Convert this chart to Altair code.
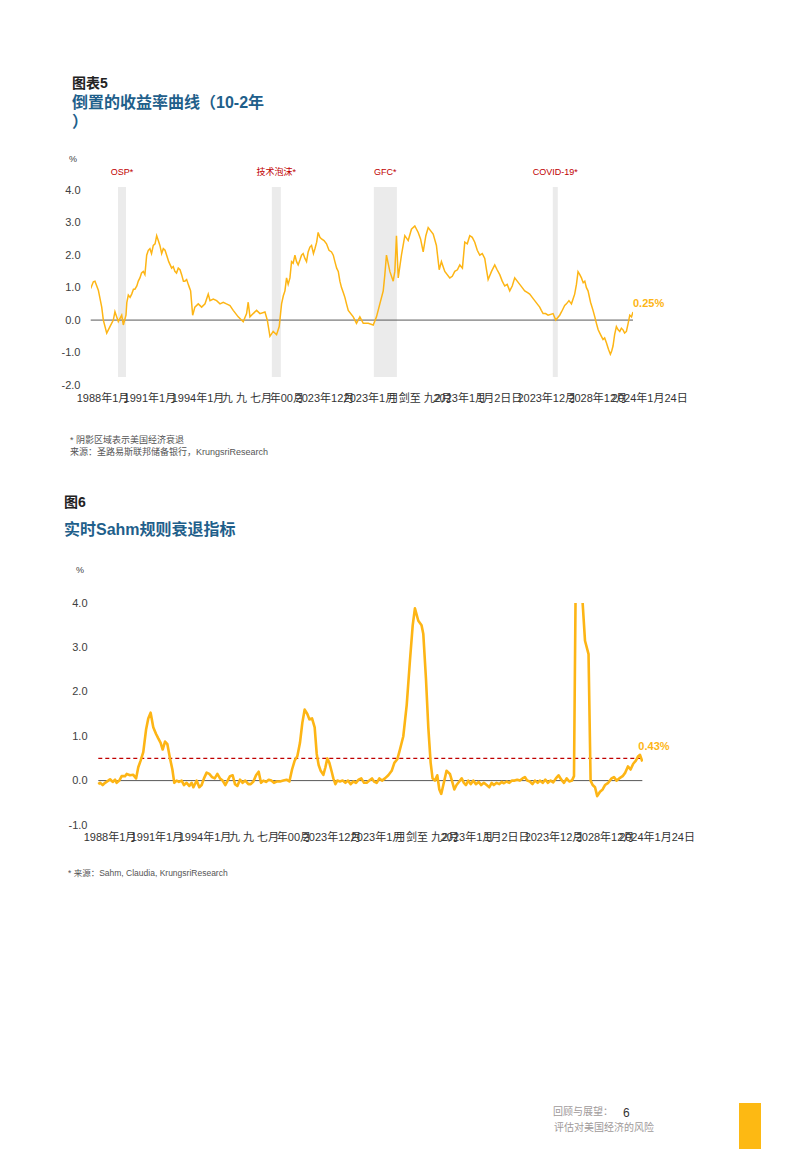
import altair as alt
import pandas as pd

FONT = "Liberation Sans, Noto Sans CJK SC, sans-serif"
LINE = "#FDB515"
BLUE = "#1f5f8b"
RED = "#c00000"

# ---------------- Chart 1 data: 10y-2y spread (%) ----------------
yc_years = [1988.64, 1988.82, 1988.93, 1989.16, 1989.39, 1989.50, 1989.73, 1989.95, 1990.18, 1990.29,
            1990.52, 1990.75, 1990.86, 1991.04, 1991.20, 1991.43, 1991.65, 1991.99, 1992.22, 1992.45,
            1992.67, 1992.90, 1993.13, 1993.35, 1993.58, 1993.81, 1994.15, 1994.37, 1994.60, 1994.83,
            1995.05, 1995.28, 1995.44, 1995.58, 1995.73, 1995.96, 1996.19, 1996.42, 1996.64, 1996.76,
            1996.98, 1997.21, 1997.44, 1997.66, 1997.88, 1998.12, 1998.34, 1998.68, 1999.02, 1999.25,
            1999.36, 1999.48, 1999.70, 1999.93, 2000.16, 2000.50, 2000.66, 2000.84, 2001.06, 2001.29,
            2001.47, 2001.63, 2001.86, 2001.97, 2002.20, 2002.31, 2002.54, 2002.76, 2002.99, 2003.22,
            2003.44, 2003.67, 2003.90, 2004.12, 2004.35, 2004.69, 2005.03, 2005.26, 2005.49, 2005.71,
            2005.94, 2006.17, 2006.51, 2006.73, 2006.96, 2007.19, 2007.53, 2007.87, 2008.09, 2008.32,
            2008.55, 2008.66, 2008.77, 2009.00, 2009.23, 2009.34, 2009.45, 2009.57, 2009.79, 2010.02,
            2010.25, 2010.47, 2010.70, 2010.93, 2011.09, 2011.27, 2011.45, 2011.61, 2011.95, 2012.17,
            2012.36, 2012.51, 2012.74, 2013.08, 2013.42, 2013.76, 2013.94, 2014.10, 2014.44, 2014.78,
            2015.12, 2015.46, 2015.69, 2015.92, 2016.14, 2016.48, 2016.82, 2017.16, 2017.50, 2017.84,
            2018.18, 2018.52, 2018.86, 2019.20, 2019.43, 2019.77, 2020.11, 2020.29, 2020.56, 2020.79,
            2021.02, 2021.36, 2021.58, 2021.81, 2022.04, 2022.27, 2022.49, 2022.83, 2023.06, 2023.29,
            2023.51, 2023.74, 2024.01, 2024.19, 2024.42, 2024.65, 2024.87, 2025.10, 2025.33, 2025.55]
yc_values = [0.97, 1.18, 1.20, 0.92, 0.40, 0.00, -0.40, -0.20, 0.00, 0.26,
             -0.05, 0.15, -0.15, 0.15, 0.77, 0.80, 0.95, 1.30, 1.50, 2.00,
             2.20, 2.30, 2.60, 2.30, 2.20, 2.00, 1.60, 1.50, 1.60, 1.40,
             1.20, 1.10, 0.90, 0.15, 0.40, 0.50, 0.40, 0.50, 0.80, 0.60,
             0.65, 0.60, 0.50, 0.55, 0.50, 0.45, 0.30, 0.10, -0.05, 0.20,
             0.55, 0.10, 0.20, 0.30, 0.20, 0.25, 0.00, -0.50, -0.35, -0.45,
             -0.20, 0.50, 0.90, 1.30, 1.30, 1.80, 2.00, 1.70, 2.00, 1.90,
             2.10, 2.30, 2.20, 2.70, 2.50, 2.35, 2.10, 1.80, 1.50, 1.00,
             0.70, 0.30, 0.10, -0.10, 0.10, -0.10, -0.10, -0.15, 0.10, 0.50,
             0.90, 1.40, 2.00, 1.50, 1.20, 1.50, 2.60, 1.30, 2.00, 2.60,
             2.45, 2.80, 2.90, 2.70, 2.50, 2.10, 2.60, 2.85, 2.65, 2.30,
             1.55, 1.80, 1.50, 1.30, 1.50, 1.70, 1.60, 2.40, 2.60, 2.40,
             2.00, 1.90, 1.25, 1.50, 1.70, 1.40, 1.05, 0.90, 1.30, 1.10,
             0.90, 0.80, 0.60, 0.40, 0.20, 0.15, 0.20, 0.00, 0.15, 0.35,
             0.50, 0.50, 0.80, 1.49, 1.30, 1.20, 0.90, 0.30, -0.10, -0.40,
             -0.60, -0.70, -1.05, -0.80, -0.20, -0.35, -0.30, -0.35, 0.15, 0.25]
# further readings between the points above (the daily series is jagged)
yc_years_more = [1991.10, 1991.32, 1991.55, 1991.78, 1991.88, 1992.10, 1992.33, 1992.56, 1992.78, 1993.02,
                 1993.24, 1993.47, 1993.70, 1993.95, 1994.26, 1994.48, 1994.72, 1994.95, 1995.17, 1995.36,
                 2001.75, 2002.08, 2002.42, 2002.65, 2002.88, 2003.10, 2003.33, 2003.56, 2003.80, 2004.02,
                 2004.24, 2004.52, 2004.86, 2005.15, 2005.38, 2005.60, 2005.83, 2006.05,
                 2013.25, 2013.60, 2014.27, 2014.61, 2014.95, 2015.29, 2015.58, 2016.03, 2016.30, 2016.65,
                 2016.99, 2017.33, 2017.67, 2018.01, 2018.35, 2018.69, 2019.03, 2019.31, 2019.60,
                 2020.68, 2020.90, 2021.19, 2021.47, 2021.70, 2021.93, 2022.16, 2022.38, 2022.66, 2022.95,
                 2023.18, 2023.40, 2023.62, 2023.88, 2024.10, 2024.30, 2024.54, 2024.76, 2024.98, 2025.22,
                 2025.45]
yc_values_more = [0.55, 0.70, 0.95, 1.05, 1.20, 1.45, 1.40, 2.15, 2.05, 2.35,
                  2.45, 2.05, 2.15, 1.80, 1.65, 1.45, 1.55, 1.20, 1.25, 1.00,
                  0.75, 1.10, 1.75, 1.80, 1.85, 2.05, 1.80, 2.25, 2.05, 2.40,
                  2.55, 2.45, 2.15, 2.00, 1.60, 1.20, 0.85, 0.50,
                  1.35, 1.55, 2.35, 2.55, 2.15, 2.05, 1.55, 1.60, 1.55, 1.20,
                  1.10, 1.05, 1.20, 1.00, 0.85, 0.70, 0.50, 0.30, 0.20,
                  0.25, 0.45, 0.60, 0.65, 1.10, 1.40, 1.15, 1.00, 0.55, 0.10,
                  -0.30, -0.50, -0.55, -0.90, -0.95, -0.45, -0.30, -0.25, -0.40, -0.10,
                  0.10]

rec_names = ["OSP*", "技术泡沫*", "GFC*", "COVID-19*"]
rec_start = [1990.50, 2000.97, 2007.91, 2020.09]
rec_end = [1991.04, 2001.58, 2009.48, 2020.43]

# ---------------- Chart 2 data: real-time Sahm rule (%) ----------------
sahm_years = [1988.68, 1988.80, 1988.98, 1989.14, 1989.36, 1989.48, 1989.66, 1989.82, 1989.93, 1990.11,
              1990.27, 1990.50, 1990.61, 1990.84, 1991.06, 1991.25, 1991.40, 1991.56, 1991.74, 1991.93,
              1992.08, 1992.24, 1992.42, 1992.61, 1992.76, 1992.92, 1993.06, 1993.22, 1993.38, 1993.56,
              1993.72, 1993.85, 1994.01, 1994.17, 1994.35, 1994.51, 1994.69, 1994.87, 1995.03, 1995.15,
              1995.37, 1995.55, 1995.71, 1995.87, 1996.05, 1996.23, 1996.42, 1996.60, 1996.78, 1996.96,
              1997.14, 1997.32, 1997.48, 1997.64, 1997.82, 1997.98, 1998.14, 1998.32, 1998.50, 1998.68,
              1998.89, 1999.05, 1999.23, 1999.41, 1999.59, 1999.75, 1999.91, 2000.09, 2000.27, 2000.45,
              2000.63, 2000.81, 2001.04, 2001.27, 2001.49, 2001.68, 2001.86, 2002.04, 2002.22, 2002.40,
              2002.56, 2002.72, 2002.90, 2003.04, 2003.22, 2003.40, 2003.54, 2003.67, 2003.81, 2003.99,
              2004.13, 2004.26, 2004.40, 2004.56, 2004.67, 2004.81, 2004.94, 2005.12, 2005.30, 2005.49,
              2005.67, 2005.85, 2006.03, 2006.21, 2006.39, 2006.57, 2006.76, 2006.94, 2007.12, 2007.30,
              2007.44, 2007.62, 2007.80, 2007.98, 2008.18, 2008.41, 2008.64, 2008.82, 2009.02, 2009.20,
              2009.43, 2009.66, 2009.88, 2010.07, 2010.22, 2010.45, 2010.67, 2010.79, 2010.97, 2011.13,
              2011.29, 2011.42, 2011.58, 2011.74, 2011.88, 2012.01, 2012.15, 2012.37, 2012.60, 2012.78,
              2012.90, 2013.05, 2013.24, 2013.40, 2013.55, 2013.69, 2013.85, 2014.01, 2014.19, 2014.37,
              2014.55, 2014.73, 2014.91, 2015.10, 2015.28, 2015.44, 2015.59, 2015.78, 2015.96, 2016.12,
              2016.27, 2016.46, 2016.64, 2016.82, 2017.00, 2017.18, 2017.36, 2017.54, 2017.70, 2017.86,
              2018.04, 2018.22, 2018.38, 2018.57, 2018.72, 2018.91, 2019.09, 2019.27, 2019.45, 2019.63,
              2019.81, 2019.99, 2020.18, 2020.36, 2020.54, 2020.72, 2020.90, 2021.04, 2021.17, 2021.33,
              2021.49, 2021.61, 2021.79, 2022.03, 2022.17, 2022.31, 2022.47, 2022.62, 2022.81, 2022.99,
              2023.15, 2023.37, 2023.60, 2023.76, 2023.94, 2024.12, 2024.35, 2024.53, 2024.71, 2024.89,
              2025.07, 2025.25, 2025.41, 2025.53, 2025.69]
sahm_values = [-0.08, -0.05, -0.10, -0.05, 0.00, 0.03, -0.03, 0.02, -0.05, 0.00,
               0.10, 0.10, 0.15, 0.12, 0.13, 0.05, 0.30, 0.45, 0.64, 1.15,
               1.40, 1.53, 1.20, 1.05, 0.95, 0.85, 0.70, 0.88, 0.82, 0.50,
               0.25, -0.05, 0.00, -0.03, 0.00, -0.10, -0.05, -0.12, -0.05, -0.15,
               0.00, -0.15, -0.10, 0.05, 0.18, 0.15, 0.08, 0.05, 0.15, 0.05,
               0.00, -0.10, 0.00, 0.10, 0.12, -0.08, -0.12, 0.02, -0.05, 0.00,
               -0.08, -0.08, -0.02, 0.12, 0.20, -0.05, 0.00, -0.03, 0.02, 0.00,
               -0.05, -0.02, -0.02, 0.00, 0.02, -0.02, 0.25, 0.45, 0.55, 0.85,
               1.30, 1.60, 1.50, 1.38, 1.40, 1.20, 0.60, 0.35, 0.22, 0.13,
               0.30, 0.50, 0.40, 0.20, 0.05, -0.08, 0.00, -0.02, 0.00, -0.05,
               0.00, -0.08, -0.02, -0.05, 0.02, 0.05, -0.05, -0.05, 0.00, 0.05,
               -0.02, -0.05, 0.05, 0.00, 0.05, 0.12, 0.22, 0.40, 0.48, 0.70,
               1.00, 1.70, 2.70, 3.50, 3.88, 3.60, 3.50, 3.30, 2.30, 1.20,
               0.40, 0.05, 0.00, 0.12, -0.20, -0.30, -0.10, 0.22, 0.15, -0.05,
               -0.20, -0.10, -0.02, 0.05, -0.05, -0.10, 0.00, -0.08, 0.00, -0.08,
               -0.03, -0.10, -0.05, -0.10, -0.15, -0.05, -0.10, -0.05, -0.08, -0.03,
               -0.06, -0.02, -0.05, 0.00, 0.00, 0.02, 0.00, 0.05, 0.08, 0.00,
               -0.02, -0.08, 0.00, -0.05, 0.00, -0.05, 0.02, -0.05, 0.00, -0.04,
               0.05, 0.12, 0.02, -0.05, 0.05, -0.02, 0.00, 0.10, 5.00, 9.50,
               8.00, 4.10, 3.15, 2.85, 0.00, -0.10, -0.15, -0.35, -0.25, -0.20,
               -0.10, -0.05, 0.05, 0.08, 0.00, 0.05, 0.10, 0.18, 0.32, 0.25,
               0.38, 0.45, 0.55, 0.58, 0.43]
sahm_threshold = 0.5

# ---------------- x tick labels (as printed) ----------------
x_labels = ["1988年1月", "1991年1月", "1994年1月", "九 九 七月", "年00月", "2023年12月", "2023年1月",
            "月剑至 九2月", "2023年1月", "1月2日日", "2023年12月", "2028年12月", "2024年1月24日"]
x_label_pos = [1989.48, 1992.67, 1995.94, 1999.27, 2001.99, 2004.58, 2007.64,
               2011.04, 2013.76, 2016.48, 2019.68, 2023.15, 2026.69]

y1_ticks = [-2, -1, 0, 1, 2, 3, 4]
y2_ticks = [-1, 0, 1, 2, 3, 4]

yc_df = pd.DataFrame({"year": yc_years + yc_years_more, "v": yc_values + yc_values_more}
                     ).sort_values("year").reset_index(drop=True)
sahm_df = pd.DataFrame({"year": sahm_years, "v": sahm_values})
rec_df = pd.DataFrame({"name": rec_names, "start": rec_start, "end": rec_end})
rec_df["mid"] = (rec_df["start"] + rec_df["end"]) / 2
xlab_df = pd.DataFrame({"lab": x_labels, "pos": x_label_pos})
yc_last = pd.DataFrame({"year": [yc_years[-1]], "v": [yc_values[-1]], "t": [f"{yc_values[-1]:.2f}%"]})
sahm_last = pd.DataFrame({"year": [sahm_years[-1]], "v": [sahm_values[-1]], "t": [f"{sahm_values[-1]:.2f}%"]})

LABEL_EXPR = "replace(format(datum.value, '.1f'), '\u2212', '-')"


def yaxis(ticks, pad):
    return alt.Axis(values=ticks, labelExpr=LABEL_EXPR, grid=False, domain=False,
                    ticks=False, tickSize=0, labelPadding=pad, labelFontSize=11,
                    labelColor="#404040", labelFont=FONT, labelOverlap=False, title=None)


def txt(s, x, y, size, color, weight="normal", align="left"):
    return alt.Chart(alt.Data(values=[{"t": s}])).mark_text(
        align=align, baseline="middle", fontSize=size, color=color,
        fontWeight=weight, font=FONT
    ).encode(x=alt.value(x), y=alt.value(y), text="t:N")


# ---------------- Chart 1 ----------------
W1, H1 = 542, 198
xs1 = alt.Scale(domain=[1988.66, 2025.55], nice=False, zero=False)
ys1 = alt.Scale(domain=[-2, 4.1], nice=False, zero=False)
ax1 = yaxis(y1_ticks, 11)

shade1 = alt.Chart(rec_df).mark_rect(color="#ebebeb").encode(
    x=alt.X("start:Q", scale=xs1, axis=None), x2="end:Q",
    y=alt.YDatum(4.1, scale=ys1, axis=ax1), y2=alt.datum(-1.75))
zero1 = alt.Chart(yc_df).mark_rule(color="#595959", strokeWidth=1).encode(
    x=alt.X("min(year):Q", scale=xs1, axis=None), x2="max(year):Q",
    y=alt.YDatum(0, scale=ys1, axis=ax1))
line1 = alt.Chart(yc_df).mark_line(color=LINE, strokeWidth=1.5, clip=True).encode(
    x=alt.X("year:Q", scale=xs1, axis=None),
    y=alt.Y("v:Q", scale=ys1, axis=ax1))
last1 = alt.Chart(yc_last).mark_text(align="left", baseline="middle", dx=0, dy=-8, fontSize=11,
                                     fontWeight="bold", color=LINE, font=FONT).encode(
    x=alt.X("year:Q", scale=xs1, axis=None), y=alt.Y("v:Q", scale=ys1, axis=ax1), text="t:N")
reclab = alt.Chart(rec_df).mark_text(align="center", baseline="middle", fontSize=9, color=RED,
                                     font=FONT).encode(
    x=alt.X("mid:Q", scale=xs1, axis=None), y=alt.value(-14.75), text="name:N")
xl1 = alt.Chart(xlab_df).mark_text(align="center", baseline="middle", fontSize=11, color="#333333",
                                   font=FONT).encode(
    x=alt.X("pos:Q", scale=xs1, axis=None), y=alt.value(211.5), text="lab:N")
anchor = alt.Chart(alt.Data(values=[{"a": 1}])).mark_rect(opacity=0).encode(
    x=alt.value(-83), x2=alt.value(-82), y=alt.value(-178.75), y2=alt.value(-177.75))

c1 = alt.layer(
    anchor, shade1, zero1, line1, last1, reclab, xl1,
    txt("图表5", -19, -102.75, 14, "#222222", "bold"),
    txt("倒置的收益率曲线（10-2年", -19, -83.75, 16, BLUE, "bold"),
    txt("）", -19, -64.75, 16, BLUE, "bold"),
    txt("%", -18, -27.75, 9, "#404040", align="center"),
    txt("* 阴影区域表示美国经济衰退", -21, 253.25, 9, "#555555"),
    txt("来源：圣路易斯联邦储备银行，KrungsriResearch", -21, 265.25, 9, "#555555"),
).properties(width=W1, height=H1)

# ---------------- Chart 2 ----------------
W2, H2 = 552, 222
xs2 = alt.Scale(domain=[1988.184, 2025.735], nice=False, zero=False)
ys2 = alt.Scale(domain=[-1, 4], nice=False, zero=False)
ax2 = yaxis(y2_ticks, 4)

zero2 = alt.Chart(sahm_df).mark_rule(color="#595959", strokeWidth=1).encode(
    x=alt.X("min(year):Q", scale=xs2, axis=None), x2="max(year):Q",
    y=alt.YDatum(0, scale=ys2, axis=ax2))
thr2 = alt.Chart(sahm_df).mark_rule(color=RED, strokeWidth=1.2, strokeDash=[4, 3]).encode(
    x=alt.X("min(year):Q", scale=xs2, axis=None), x2="max(year):Q",
    y=alt.YDatum(sahm_threshold, scale=ys2, axis=ax2))
line2 = alt.Chart(sahm_df).mark_line(color=LINE, strokeWidth=2.6, clip=True,
                                     strokeJoin="round").encode(
    x=alt.X("year:Q", scale=xs2, axis=None),
    y=alt.Y("v:Q", scale=ys2, axis=ax2))
last2 = alt.Chart(sahm_last).mark_text(align="left", baseline="middle", dx=-4, dy=-15, fontSize=11,
                                       fontWeight="bold", color=LINE, font=FONT).encode(
    x=alt.X("year:Q", scale=xs2, axis=None), y=alt.Y("v:Q", scale=ys2, axis=ax2), text="t:N")
xl2 = alt.Chart(xlab_df).mark_text(align="center", baseline="middle", fontSize=11, color="#333333",
                                   font=FONT).encode(
    x=alt.X("pos:Q", scale=xs2, axis=None), y=alt.value(235), text="lab:N")
bar = alt.Chart(alt.Data(values=[{"a": 1}])).mark_rect(color="#FDB913").encode(
    x=alt.value(648), x2=alt.value(670), y=alt.value(500), y2=alt.value(546))

c2 = alt.layer(
    zero2, thr2, line2, last2, xl2, bar,
    txt("图6", -27, -100, 14, "#222222", "bold"),
    txt("实时Sahm规则衰退指标", -27, -73, 16, BLUE, "bold"),
    txt("%", -11, -33, 9, "#404040", align="center"),
    txt("* 来源：Sahm, Claudia, KrungsriResearch", -23, 270, 8.5, "#555555"),
    txt("回顾与展望：", 462, 509, 10, "#a09a9a"),
    txt("6", 532, 510, 12, "#333333"),
    txt("评估对美国经济的风险", 463, 525, 10, "#a09a9a"),
).properties(width=W2, height=H2)

chart = alt.vconcat(c1, c2, spacing=218, bounds="flush").properties(
    padding=0, background="white"
).configure_view(strokeWidth=0)

chart.save("out.html", embed_options={"renderer": "svg", "actions": False})
